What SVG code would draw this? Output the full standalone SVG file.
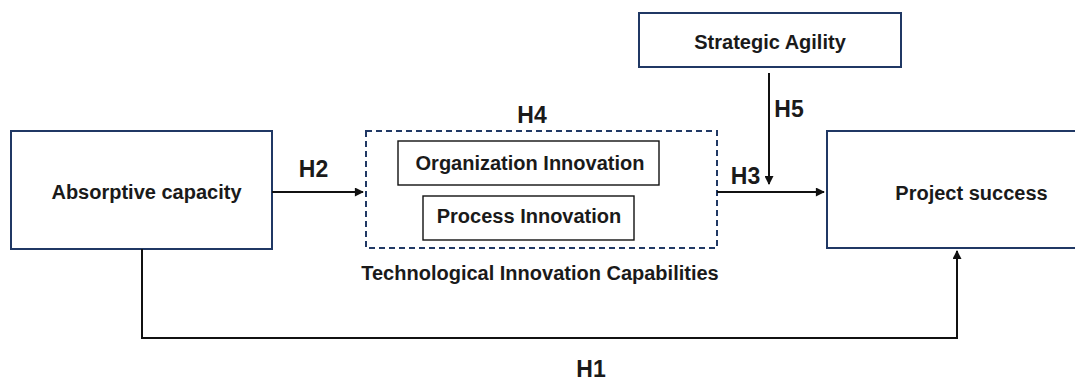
<svg xmlns="http://www.w3.org/2000/svg" width="1075" height="383" viewBox="0 0 1075 383">
  <defs>
    <style>
      .box { fill: #ffffff; stroke: #203864; stroke-width: 2; }
      .group { fill: none; stroke: #203864; stroke-width: 2; stroke-dasharray: 6 4; }
      .inner { fill: #ffffff; stroke: #111111; stroke-width: 1.4; }
      .label { font-family: "Liberation Sans", Arial, sans-serif; font-weight: bold; font-size: 20px; fill: #1a1a1a; text-anchor: middle; }
      .hyp { font-family: "Liberation Sans", Arial, sans-serif; font-weight: bold; font-size: 23px; fill: #1a1a1a; text-anchor: middle; }
      .wire { fill: none; stroke: #111111; stroke-width: 2; }
    </style>
    <marker id="arrow" viewBox="0 0 10 10" refX="9" refY="5" markerWidth="5" markerHeight="4.5" markerUnits="strokeWidth" orient="auto">
      <path d="M0,0 L10,5 L0,10 z" fill="#111111"/>
    </marker>
  </defs>

  <rect width="1075" height="383" fill="#ffffff"/>

  <!-- nodes -->
  <g id="absorptive-capacity">
    <rect class="box" x="11" y="131" width="261" height="118"/>
    <text class="label" x="146.5" y="199">Absorptive capacity</text>
  </g>

  <g id="technological-innovation-capabilities">
    <rect class="group" x="366" y="131" width="351" height="117"/>
    <text class="label" x="540" y="280">Technological Innovation Capabilities</text>
  </g>

  <g id="organization-innovation">
    <rect class="inner" x="398" y="141" width="261" height="44"/>
    <text class="label" x="530" y="170">Organization Innovation</text>
  </g>

  <g id="process-innovation">
    <rect class="inner" x="423" y="196" width="211" height="44"/>
    <text class="label" x="529" y="223">Process Innovation</text>
  </g>

  <g id="strategic-agility">
    <rect class="box" x="639" y="13" width="262" height="54"/>
    <text class="label" x="770" y="49">Strategic Agility</text>
  </g>

  <g id="project-success">
    <rect class="box" x="827" y="131" width="270" height="117"/>
    <text class="label" x="971.5" y="200">Project success</text>
  </g>

  <!-- connectors -->
  <g id="connectors">
    <line class="wire" x1="272" y1="192" x2="363" y2="192" marker-end="url(#arrow)"/>
    <line class="wire" x1="717" y1="192" x2="824" y2="192" marker-end="url(#arrow)"/>
    <line class="wire" x1="769" y1="73" x2="769" y2="184" marker-end="url(#arrow)"/>
    <polyline class="wire" points="142,249 142,338 957,338 957,251" marker-end="url(#arrow)"/>
  </g>

  <!-- hypothesis labels -->
  <g id="hypotheses">
    <text class="hyp" x="313.5" y="177">H2</text>
    <text class="hyp" x="532" y="123">H4</text>
    <text class="hyp" x="745.5" y="184">H3</text>
    <text class="hyp" x="789" y="117">H5</text>
    <text class="hyp" x="591" y="377">H1</text>
  </g>
</svg>
